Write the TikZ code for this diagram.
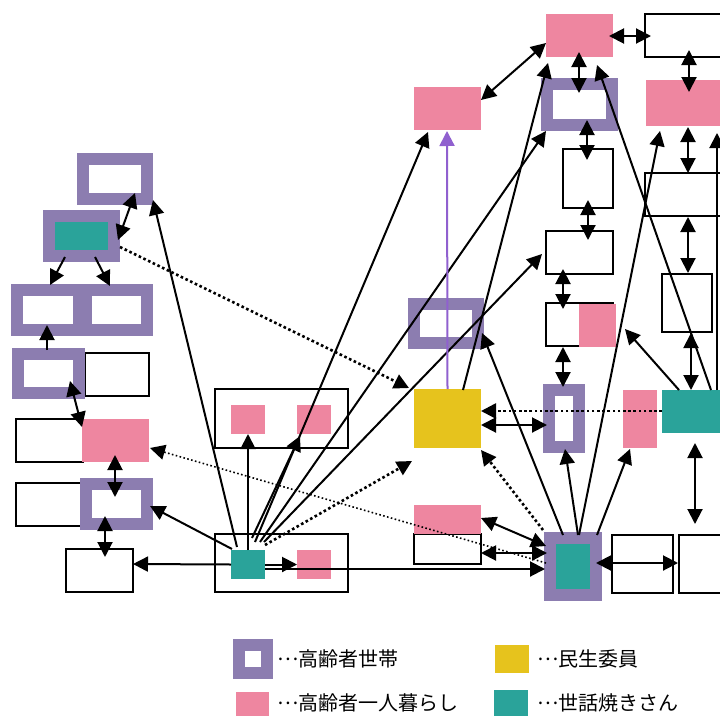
\documentclass[tikz,border=0pt]{standalone}
\usepackage{fontspec}
\newfontfamily\jpfont{Noto Sans CJK JP}
\usetikzlibrary{arrows.meta}
\definecolor{hhpurple}{HTML}{8C7DB0}
\definecolor{solopink}{HTML}{EE86A0}
\definecolor{welfyellow}{HTML}{E6C31D}
\definecolor{careteal}{HTML}{2AA39A}
\definecolor{linkpurple}{HTML}{9060CF}
% centred leader dots in front of each legend entry
\newcommand{\leaderdots}{\raisebox{0.3em}{…}}
\begin{document}
\begin{tikzpicture}[x=1pt,y=-1pt,
  >={Triangle[length=15pt,width=15pt]},
  plainbox/.style={draw=black, line width=2pt, fill=white, inner sep=0pt, outer sep=0pt},
  household/.style={draw=hhpurple, line width=12pt, fill=white, inner sep=0pt, outer sep=0pt},
  householdcare/.style={household, fill=careteal},
  solo/.style={fill=solopink, inner sep=0pt, outer sep=0pt},
  welfare/.style={fill=welfyellow, inner sep=0pt, outer sep=0pt},
  carer/.style={fill=careteal, inner sep=0pt, outer sep=0pt},
  sz/.style 2 args={minimum width=#1pt, minimum height=#2pt},
  link/.style={line width=2pt},
  dotlink/.style={line width=2.6pt, dash pattern=on 2.6pt off 2.6pt},
  finedots/.style={line width=1.6pt, dash pattern=on 1.6pt off 2.4pt},
  legend/.style={anchor=west, inner sep=0pt, font=\jpfont\fontsize{20pt}{24pt}\selectfont}]

\useasboundingbox (0,0) rectangle (720,715);
\fill[white] (0,0) rectangle (720,715);

% left-hand cluster
\node[household, sz={64}{40}] (a1) at (115,179) {};
\node[householdcare, sz={65}{40}] (a2) at (81.5,236) {};
\node[household, sz={62}{40}] (a3l) at (48,310) {};
\node[household, sz={61}{40}] (a3r) at (116.5,310) {};
\node[plainbox, sz={64}{43}] (a4w) at (117,374.5) {};
\node[household, sz={61}{39}] (a4) at (48.5,373.5) {};
\node[plainbox, sz={67}{43}] (a5w) at (49.5,440.5) {};
\node[solo, sz={67}{43}] (a5p) at (115.5,440.5) {};
\node[plainbox, sz={67}{43}] (a6w) at (49.5,504.5) {};
\node[household, sz={61}{40}] (a6) at (116.5,504) {};
\node[plainbox, sz={67}{43}] (a7) at (99.5,570.5) {};

% bottom-centre groups
\node[plainbox, sz={133}{59}] (b2) at (281.5,418.5) {};
\node[solo, sz={34}{29}] (b2l) at (248,419.5) {};
\node[solo, sz={34}{29}] (b2r) at (314,419.5) {};
\node[plainbox, sz={133}{58}] (b1) at (281.5,563) {};
\node[carer, sz={34}{29}] (b1c) at (248,564.5) {};
\node[solo, sz={34}{29}] (b1p) at (314,564.5) {};

% centre column
\node[solo, sz={67}{43}] (m0) at (447.5,108.5) {};
\node[household, sz={64}{39}] (m1) at (446,323.5) {};
\node[welfare, sz={67}{59}] (yel) at (447.5,418.5) {};
\node[plainbox, sz={67}{30}] (mwhite) at (447.5,549) {};
\node[solo, sz={67}{29}] (mpink) at (447.5,519.5) {};

% right-hand cluster
\node[solo, sz={67}{43}] (c9) at (579.5,35.5) {};
\node[plainbox, sz={100}{43}] (c10) at (695,35.5) {};
\node[household, sz={65}{41}] (c8) at (579.5,104.5) {};
\node[solo, sz={100}{46}] (c11) at (696,103) {};
\node[plainbox, sz={50}{59}] (c7) at (588,178.5) {};
\node[plainbox, sz={100}{43}] (c12) at (695,194.5) {};
\node[plainbox, sz={67}{43}] (c6) at (579.5,252.5) {};
\node[plainbox, sz={50}{58}] (c13) at (687,303) {};
\node[plainbox, sz={67}{43}] (c5w) at (579.5,324.5) {};
\node[solo, sz={37}{43}] (c5p) at (597.5,325.5) {};
\node[household, sz={30}{57}] (c2) at (564,418.5) {};
\node[solo, sz={34}{58}] (c3) at (640,419) {};
\node[carer, sz={67}{43}] (c4) at (695.5,411.5) {};
\node[householdcare, sz={46}{57}] (c1) at (573,566.5) {};
\node[plainbox, sz={61}{58}] (d1) at (642.5,564) {};
\node[plainbox, sz={66}{58}] (d2) at (712,564) {};

% legend
\node[household, sz={28}{28}] (k1) at (253,659) {};
\node[solo, sz={33}{29}] (k2) at (252.5,706.5) {};
\node[welfare, sz={34}{28}] (k3) at (512,659) {};
\node[carer, sz={34}{29}] (k4) at (511,704.5) {};
\node[legend] (t1) at (277,659) {\leaderdots 高齢者世帯};
\node[legend] (t2) at (277,703) {\leaderdots 高齢者一人暮らし};
\node[legend] (t3) at (537,659) {\leaderdots 民生委員};
\node[legend] (t4) at (537,703) {\leaderdots 世話焼きさん};

% links in the left-hand cluster
\draw[link,<->] ([shift={(36.5,4)}]a2.center) -- ([shift={(20,14)}]a1.center);
\draw[link,->] ([shift={(-16.5,21)}]a2.center) -- ([shift={(2,-25)}]a3l.center);
\draw[link,->] ([shift={(13.5,21)}]a2.center) -- ([shift={(-6.5,-24)}]a3r.center);
\draw[link,->] ([shift={(-1.5,-23.5)}]a4.center) -- ([shift={(-1,15)}]a3l.center);
\draw[link,<->] ([shift={(21.5,7.5)}]a4.center) -- ([shift={(-33.5,-13.5)}]a5p.center);
\draw[link,<->] ([shift={(-0.5,14.5)}]a5p.center) -- ([shift={(-1.5,-7)}]a6.center);
\draw[link,<->] ([shift={(-11.5,12)}]a6.center) -- ([shift={(5.5,-13.5)}]a7.center);

% links from the carer in the bottom group
\draw[link,->] ([shift={(-17,0)}]b1c.center) -- ([shift={(33.5,-6.5)}]a7.center);
\draw[link,->] ([shift={(-16,-15.5)}]b1c.center) -- ([shift={(33.5,2)}]a6.center);
\draw[link,->] ([shift={(-11,-17.5)}]b1c.center) -- ([shift={(38,21)}]a1.center);
\draw[link,->] (b1c.east) -- (b1p.west);
\draw[link,->] ([shift={(17,4.5)}]b1c.center) -- ([shift={(-28,2.5)}]c1.center);
\draw[link,->] (b1c.north) -- (b2l.south);
\draw[link,->] ([shift={(4,-26.5)}]b1c.center) -- ([shift={(-14,16.5)}]b2r.center);
\draw[link,->] ([shift={(7,-22.5)}]b1c.center) -- ([shift={(-19.5,23.5)}]m0.center);
\draw[link,->] ([shift={(12,-22.5)}]b1c.center) -- ([shift={(-33.5,26.5)}]c8.center);
\draw[link,->] ([shift={(16,-22.5)}]b1c.center) -- ([shift={(-37.5,1.5)}]c6.center);
\draw[dotlink,->] ([shift={(17,-19.5)}]b1c.center) -- ([shift={(-35.5,42.5)}]yel.center);
\draw[dotlink,->] ([shift={(38.5,11)}]a2.center) -- ([shift={(-38.5,-30.5)}]yel.center);

% links from the household carer on the right
\draw[finedots,->] ([shift={(-27,-3.5)}]c1.center) -- ([shift={(34.5,7.5)}]a5p.center);
\draw[link,<->] ([shift={(-27,-20.5)}]c1.center) -- ([shift={(33.5,-1.5)}]mpink.center);
\draw[link,<->] ([shift={(-26,-13.5)}]c1.center) -- ([shift={(33.5,4)}]mwhite.center);
\draw[dotlink,->] ([shift={(-30,-36.5)}]c1.center) -- ([shift={(33.5,31.5)}]yel.center);
\draw[link,->] ([shift={(-10,-31.5)}]c1.center) -- ([shift={(36,9.5)}]m1.center);
\draw[link,->] ([shift={(5,-31.5)}]c1.center) -- ([shift={(1,30.5)}]c2.center);
\draw[link,->] ([shift={(6,-31.5)}]c1.center) -- ([shift={(-36,28)}]c11.center);
\draw[link,->] ([shift={(24,-31.5)}]c1.center) -- ([shift={(-10,30)}]c3.center);
\draw[link,<->] ([shift={(23,-3.5)}]c1.center) -- ([shift={(-34,-1)}]d2.center);

% links around the welfare commissioner and the right-hand carer
\draw[link,<->] ([shift={(-0.5,31.5)}]c4.center) -- ([shift={(-17,-40)}]d2.center);
\draw[dotlink,->] ([shift={(-33.5,-0.5)}]c4.center) -- ([shift={(33.5,-7.5)}]yel.center);
\draw[link,<->] ([shift={(33.5,6.5)}]yel.center) -- ([shift={(-17,6.5)}]c2.center);
\draw[link,->,color=linkpurple] (yel.north) -- ([shift={(-0.5,22.5)}]m0.center);
\draw[link,->] ([shift={(15.5,-28.5)}]yel.center) -- ([shift={(-31.5,27.5)}]c9.center);
\draw[link,->] ([shift={(15.5,-21.5)}]c4.center) -- ([shift={(17.5,29.5)}]c9.center);
\draw[link,->] ([shift={(-16.5,-21.5)}]c4.center) -- ([shift={(27.5,3.5)}]c5p.center);
\draw[link,<->] ([shift={(-4.5,-21.5)}]c4.center) -- ([shift={(4,30)}]c13.center);
\draw[link,->] ([shift={(21.5,-21.5)}]c4.center) -- ([shift={(21,30)}]c11.center);

% chains in the upper right
\draw[link,<->] ([shift={(-7,22.5)}]c12.center) -- ([shift={(1,-30)}]c13.center);
\draw[link,<->] ([shift={(-8,24)}]c11.center) -- ([shift={(-7,-21.5)}]c12.center);
\draw[link,<->] ([shift={(-6,14.5)}]c10.center) -- ([shift={(-7,-11)}]c11.center);
\draw[link,<->] ([shift={(29.5,0.5)}]c9.center) -- ([shift={(-44,0.5)}]c10.center);
\draw[link,<->] ([shift={(-0.5,16.5)}]c9.center) -- ([shift={(-0.5,-11.5)}]c8.center);
\draw[link,<->] ([shift={(7.5,15.5)}]c8.center) -- ([shift={(-1,-18.5)}]c7.center);
\draw[link,<->] ([shift={(0,21.5)}]c7.center) -- ([shift={(8.5,-12.5)}]c6.center);
\draw[link,<->] ([shift={(-16.5,16.5)}]c6.center) -- ([shift={(-16.5,-15.5)}]c5w.center);
\draw[link,<->] ([shift={(-16.5,22.5)}]c5w.center) -- ([shift={(-1,-31.5)}]c2.center);
\draw[link,<->] ([shift={(33.5,-8.5)}]m0.center) -- ([shift={(-33.5,7.5)}]c9.center);
\end{tikzpicture}
\end{document}
